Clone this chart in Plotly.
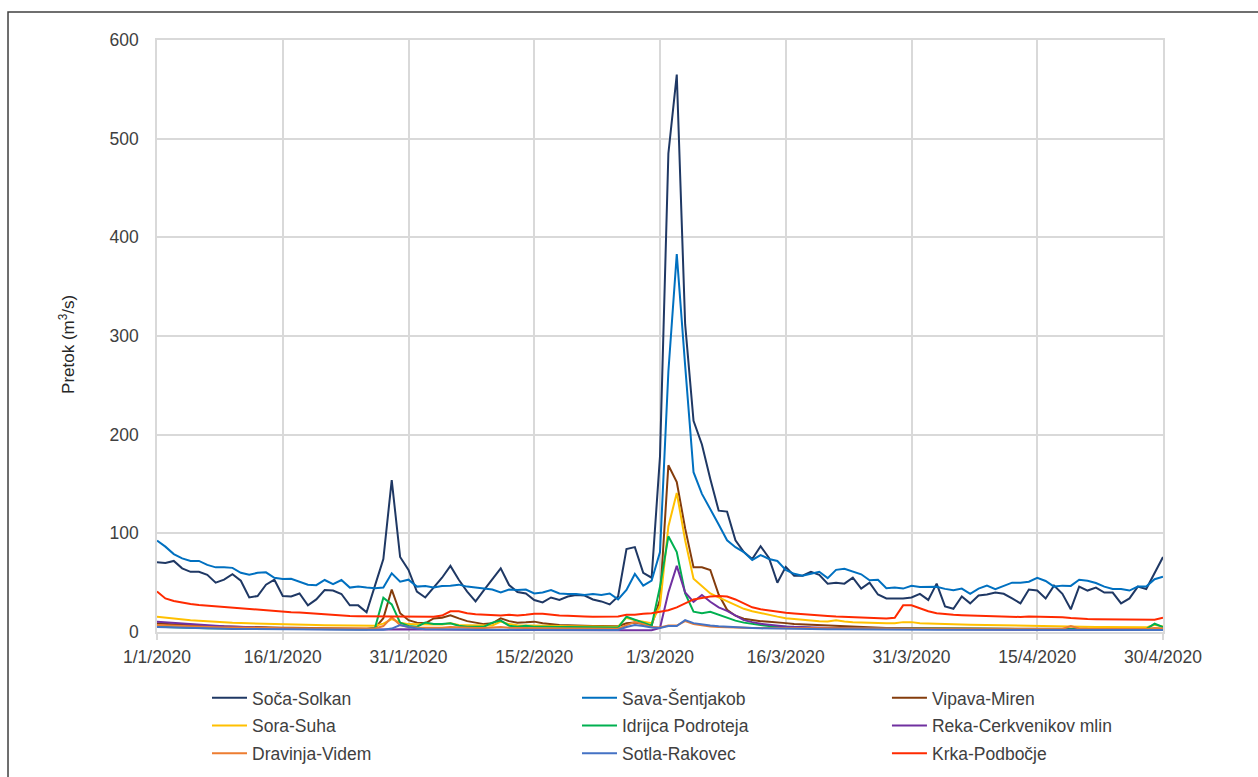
import pandas as pd
import plotly.graph_objects as go

# Daily discharge (m3/s), 1 Jan 2020 - 30 Apr 2020
dates = pd.date_range("2020-01-01", "2020-04-30", freq="D")

soca_solkan = [
    70.6, 70, 72, 64.5, 61, 61, 58, 50, 53, 58.5,
    52, 35, 36.5, 48, 53, 36.5, 36, 39, 27, 33,
    42.5, 42, 38.5, 27, 27, 20, 47, 74, 154, 76,
    63, 41, 35, 45, 55, 67, 53, 41, 31, 42.5,
    53, 64.5, 47.6, 40.5, 39, 32.4, 30, 35, 32.4, 36,
    37.5, 37, 33, 31, 28, 36, 84, 86, 60, 55,
    178, 485, 565, 312, 214, 190, 155, 123, 122, 93,
    81, 74, 87, 75, 50, 66, 57, 57, 61, 58,
    49, 50, 49, 55, 44, 50, 38, 34, 34, 34,
    35, 38.7, 32.5, 49, 26, 23.5, 36, 29, 37, 38,
    40, 38.7, 34, 29, 43, 42, 34, 47, 38.7, 23,
    46, 42, 45, 40, 40, 29, 34, 46, 43.5, 59,
    76,
]
sava_sentjakob = [
    92.6, 86.5, 79, 74.6, 72, 72, 68, 65.5, 65.5, 65,
    60, 58, 60, 60.5, 55, 53.7, 54, 51, 48, 47.5,
    52.7, 48.6, 52.7, 45, 46, 45, 44.4, 45, 59.5, 51,
    53, 46, 46.6, 45, 46.6, 47, 48, 46, 45, 43.6,
    43, 40, 43, 42.6, 43, 39, 40, 42.6, 39, 38.5,
    38.5, 37.5, 38.5, 37.5, 39, 33, 42.6, 58.8, 47, 52,
    81, 264, 383, 270, 162, 140, 125, 109, 93, 86,
    81, 73, 78, 74, 72, 63, 59, 57, 59, 61,
    54.6, 63, 64, 61, 58.5, 52.5, 53, 44.3, 45, 44,
    46.8, 45.5, 45.5, 45.8, 43.7, 42.3, 44, 38.7, 44, 47,
    43.5, 46.7, 50, 50, 51, 55, 51.7, 46, 47, 46.7,
    53, 52, 49.6, 46, 43.5, 43.5, 42, 46, 46, 53.5,
    56,
]
vipava_miren = [
    8.5, 8, 7.6, 7.2, 6.8, 6.5, 6.2, 5.9, 5.6, 5.4,
    5.2, 5, 4.8, 4.6, 4.4, 4.3, 4.2, 4.1, 4, 3.9,
    3.8, 3.7, 3.6, 3.5, 3.5, 3.4, 4, 14, 43, 19,
    12, 9.5, 8.8, 13.8, 14.5, 17, 13.8, 11, 9.5, 8,
    8.8, 13.8, 11, 9.5, 9.8, 10.5, 8.8, 7.8, 7, 6.8,
    6.4, 6, 6, 6, 5.8, 5.8, 8.8, 9.5, 8, 6.8,
    33, 169, 152, 105, 65.5, 65.5, 62.8, 38, 22.5, 16.5,
    13.5, 12, 11, 10.5, 10, 9, 8, 7.6, 7.3, 7,
    6.5, 6, 5.5, 5, 4.6, 4.3, 4.2, 4.1, 4, 4,
    3.9, 3.8, 3.8, 3.7, 3.6, 3.6, 3.5, 3.5, 3.4, 3.4,
    3.4, 3.3, 3.3, 3.3, 3.2, 3.2, 3.2, 3.1, 3.1, 3.1,
    3.1, 3, 3, 3, 3, 3, 3, 3, 3, 3.5,
    3.2,
]
sora_suha = [
    15.5, 14.5, 13.5, 12.8, 12, 11.5, 10.8, 10.1, 9.5, 9.4,
    9.1, 8.8, 8.4, 8.1, 7.8, 7.7, 7.4, 7.2, 7, 7,
    6.9, 6.7, 6.6, 6.5, 6.5, 6.4, 6.4, 8.5, 13, 9.5,
    8, 7.8, 7.8, 7.8, 7.6, 8.8, 7, 6.8, 6.7, 6.6,
    6.6, 10.5, 8, 6.8, 6.5, 6.4, 6.3, 6.2, 6, 5.9,
    5.8, 5.7, 5.6, 5.5, 5.5, 5.4, 14.5, 12, 10.5, 9,
    27, 107, 141, 93, 54, 46, 39, 35, 31, 27,
    23.5, 21, 19, 17.3, 15.6, 14, 13.4, 12.3, 11.7, 10.8,
    10.6, 12, 10.6, 10, 9.6, 9.2, 8.9, 8.9, 8.8, 10,
    10, 8.9, 8.6, 8.2, 8, 7.8, 7.6, 7.4, 7.2, 7,
    6.8, 6.6, 6.4, 6.2, 6, 5.9, 5.8, 5.6, 5.5, 5.4,
    5.3, 5.2, 5.1, 5, 4.9, 4.8, 4.8, 4.7, 4.7, 7.3,
    5.5,
]
idrijca_podroteja = [
    5.4, 5, 4.7, 4.4, 4.2, 4, 3.8, 3.6, 3.5, 3.4,
    3.4, 3.3, 3.3, 3.2, 3.2, 3.1, 3.1, 3, 3, 3,
    2.9, 2.9, 2.9, 2.8, 2.8, 2.8, 4, 34.8, 28, 9.5,
    6.1, 5.4, 9.5, 8.1, 8.1, 8.8, 6.4, 5.4, 5.4, 5.4,
    9.5, 11.5, 6.4, 5.4, 6.4, 5.4, 5.2, 5.1, 5, 4.9,
    4.8, 4.7, 4.6, 4.6, 4.5, 4.5, 15.5, 12.2, 9.5, 6.4,
    46, 97, 81, 39, 20.6, 19, 20.5, 17.5, 14.3, 11.5,
    9.5, 8, 7, 6.2, 5.6, 5.2, 4.8, 4.5, 4.2, 4,
    3.9, 3.8, 3.8, 3.7, 3.7, 3.6, 3.6, 3.5, 3.5, 3.5,
    3.4, 3.4, 3.4, 3.3, 3.3, 3.3, 3.2, 3.2, 3.2, 3.2,
    3.1, 3.1, 3.1, 3.1, 3, 3, 3, 3, 3, 3,
    3, 3, 2.9, 2.9, 2.9, 2.9, 2.9, 2.9, 2.9, 8.4,
    5,
]
reka_cerkvenikov = [
    10.5, 9.8, 9.1, 8.5, 7.9, 7.3, 6.8, 6.3, 5.8, 5.4,
    5, 4.6, 4.3, 4, 3.7, 3.5, 3.3, 3.1, 3, 2.9,
    2.8, 2.7, 2.6, 2.6, 2.5, 2.5, 2.5, 2.5, 2.6, 2.8,
    2.7, 2.6, 2.5, 2.4, 2.4, 2.4, 2.3, 2.3, 2.2, 2.2,
    2.2, 2.2, 2.1, 2.1, 2.1, 2, 2, 2, 2, 1.9,
    1.9, 1.9, 1.8, 1.8, 1.8, 1.8, 1.8, 1.7, 1.7, 1.7,
    4, 40, 67, 40, 30.6, 37.5, 30.6, 25, 21.5, 16.5,
    12, 10, 8.3, 7.4, 6.4, 5.7, 5.2, 4.8, 4.5, 4.2,
    4, 3.8, 3.7, 3.6, 3.5, 3.4, 3.3, 3.2, 3.1, 3,
    3, 2.9, 2.9, 2.8, 2.8, 2.7, 2.7, 2.6, 2.6, 2.5,
    2.5, 2.5, 2.4, 2.4, 2.4, 2.3, 2.3, 2.3, 2.2, 2.2,
    2.2, 2.2, 2.1, 2.1, 2.1, 2.1, 2, 2, 2, 2,
    2,
]
dravinja_videm = [
    7, 6.6, 6.2, 5.9, 5.6, 5.3, 5, 4.8, 4.6, 4.4,
    4.3, 4.2, 4.1, 4, 4, 3.9, 3.9, 3.8, 3.8, 3.7,
    3.7, 3.6, 3.6, 3.6, 3.5, 3.5, 3.6, 6, 15, 7,
    5, 4.5, 4.4, 4.3, 4.3, 5, 4.5, 4.2, 4.1, 4,
    4.2, 5, 4.4, 4.1, 4, 3.9, 3.9, 3.8, 3.8, 3.7,
    3.7, 3.6, 3.6, 3.5, 3.5, 3.4, 7, 10, 8, 5,
    4.5, 6.5, 6.5, 11, 8, 6.5, 5.5, 5, 4.6, 4.3,
    4.2, 4.1, 4, 4, 3.9, 3.9, 3.8, 3.8, 3.7, 3.7,
    3.6, 3.6, 3.6, 3.5, 3.5, 3.5, 3.4, 3.4, 3.4, 3.4,
    3.3, 3.3, 3.3, 3.3, 3.2, 3.2, 3.2, 3.2, 3.2, 3.1,
    3.1, 3.1, 3.1, 3.1, 3.1, 3, 3, 3, 3, 6,
    3.5, 3.2, 3.1, 3, 3, 3, 3, 3, 3, 4,
    3.5,
]
sotla_rakovec = [
    5, 4.7, 4.4, 4.1, 3.9, 3.7, 3.5, 3.3, 3.2, 3.1,
    3, 2.9, 2.9, 2.8, 2.8, 2.7, 2.7, 2.6, 2.6, 2.5,
    2.5, 2.5, 2.4, 2.4, 2.3, 2.3, 2.3, 2.2, 3.5, 7,
    5, 3.5, 2.8, 2.6, 2.6, 2.6, 2.5, 2.5, 2.4, 2.4,
    2.4, 2.5, 2.4, 2.3, 2.3, 2.3, 2.2, 2.2, 2.2, 2.1,
    2.1, 2.1, 2.1, 2, 2, 2, 5, 7, 6, 4.5,
    4, 6, 6, 12, 9, 7.5, 6.5, 5.8, 5.2, 4.7,
    4.3, 4, 3.7, 3.5, 3.3, 3.1, 3, 2.9, 2.8, 2.8,
    2.7, 2.7, 2.6, 2.6, 2.6, 2.5, 2.5, 2.5, 2.4, 2.4,
    2.4, 2.4, 2.3, 2.3, 2.3, 2.3, 2.2, 2.2, 2.2, 2.2,
    2.2, 2.1, 2.1, 2.1, 2.1, 2.1, 2, 2, 2, 2,
    2, 2, 2, 2, 2, 2, 2, 2, 2, 2,
    2,
]
krka_podbocje = [
    41, 34, 31.4, 29.7, 28.4, 27.4, 26.7, 26.3, 25.7, 25,
    23.7, 23, 22.4, 21.7, 21.4, 20.7, 20, 19.7, 19, 18.4,
    17.7, 17, 16.4, 16.2, 16, 16, 16, 16, 16, 16,
    16, 16, 16, 15.4, 16.7, 21, 21, 19, 18, 17.4,
    17.4, 16.7, 17.4, 16.7, 17.4, 18.4, 18.4, 17.4, 16.7, 16.4,
    15.7, 15.7, 15.4, 15.4, 15.4, 15.7, 17.4, 17.4, 18.4, 19,
    20.5, 22, 25, 29, 33, 34.5, 35.9, 36.5, 36, 33,
    29, 25, 23, 21.6, 20.5, 19.5, 18.8, 18, 17.3, 16.7,
    16.3, 15.7, 15.3, 15, 14.6, 14, 13.6, 13.6, 14.5, 27,
    27, 24, 21, 19, 18, 17.4, 17, 16.7, 16.4, 16.2,
    16, 15.8, 15.6, 15.2, 15.6, 15.5, 15.4, 15.4, 15, 14.2,
    13.5, 13.2, 13, 12.9, 12.8, 12.7, 12.7, 12.6, 12.5, 12.4,
    14.5,
]

# (name, values, colour, legend column)
series = [
    ("Soča-Solkan", soca_solkan, "#1F3864", "legend"),
    ("Sava-Šentjakob", sava_sentjakob, "#0070C0", "legend2"),
    ("Vipava-Miren", vipava_miren, "#843C0C", "legend3"),
    ("Sora-Suha", sora_suha, "#FFC000", "legend"),
    ("Idrijca Podroteja", idrijca_podroteja, "#00B050", "legend2"),
    ("Reka-Cerkvenikov mlin", reka_cerkvenikov, "#7030A0", "legend3"),
    ("Dravinja-Videm", dravinja_videm, "#ED7D31", "legend"),
    ("Sotla-Rakovec", sotla_rakovec, "#4472C4", "legend2"),
    ("Krka-Podbočje", krka_podbocje, "#FF2A00", "legend3"),
]

tick_dates = ["2020-01-01", "2020-01-16", "2020-01-31", "2020-02-15", "2020-03-01",
              "2020-03-16", "2020-03-31", "2020-04-15", "2020-04-30"]
tick_labels = ["1/1/2020", "16/1/2020", "31/1/2020", "15/2/2020", "1/3/2020",
               "16/3/2020", "31/3/2020", "15/4/2020", "30/4/2020"]

fig = go.Figure()
for name, vals, color, leg in series:
    if len(vals) != len(dates):
        raise ValueError(f"{name}: {len(vals)} values")
    fig.add_trace(go.Scatter(
        x=dates, y=vals, mode="lines", name=name,
        line=dict(color=color, width=2),
        legend=leg, legendgroup=name,
    ))

FONT = "Liberation Sans, Arial, sans-serif"
TXT = "#404040"
GRID = "#D9D9D9"
FS = 17.5

legend_common = dict(
    orientation="v", yanchor="top", y=-0.081, xanchor="left",
    font=dict(family=FONT, size=FS, color=TXT),
    bgcolor="rgba(0,0,0,0)", tracegroupgap=2, itemwidth=35,
)

fig.update_layout(
    width=1258, height=777,
    margin=dict(l=157, r=95, t=40, b=145, autoexpand=False),
    paper_bgcolor="white", plot_bgcolor="white",
    font=dict(family=FONT, size=FS, color=TXT),
    showlegend=True,
    legend=dict(x=0.0497, **legend_common),
    legend2=dict(x=0.4175, **legend_common),
    legend3=dict(x=0.7256, **legend_common),
    xaxis=dict(
        range=["2020-01-01", "2020-04-30"],
        tickvals=tick_dates, ticktext=tick_labels,
        showgrid=True, gridcolor=GRID, gridwidth=1.5,
        showline=True, linecolor=GRID, linewidth=1.5, mirror=True,
        ticks="outside", ticklen=6, tickcolor=GRID, tickwidth=1.5,
        ticklabelstandoff=2,
        tickfont=dict(family=FONT, size=FS, color=TXT),
        zeroline=False,
    ),
    yaxis=dict(
        range=[0, 600], dtick=100, tick0=0,
        showgrid=True, gridcolor=GRID, gridwidth=1.5,
        showline=True, linecolor=GRID, linewidth=1.5, mirror=True,
        ticks="", tickfont=dict(family=FONT, size=FS, color=TXT),
        ticklabelstandoff=13,
        zeroline=False,
    ),
    annotations=[dict(
        text="Pretok (m<sup>3</sup>/s)", textangle=-90,
        xref="paper", yref="paper", x=-0.0895, y=0.4865,
        xanchor="center", yanchor="middle", showarrow=False,
        font=dict(family=FONT, size=17, color="#262626"),
    )],
    shapes=[dict(
        type="rect", xref="paper", yref="paper",
        x0=-0.1481, x1=1.3, y0=-0.5, y1=1.0473,
        line=dict(color="#404040", width=1.5), fillcolor="rgba(0,0,0,0)",
        layer="below",
    )],
)

fig.write_html("out.html")
